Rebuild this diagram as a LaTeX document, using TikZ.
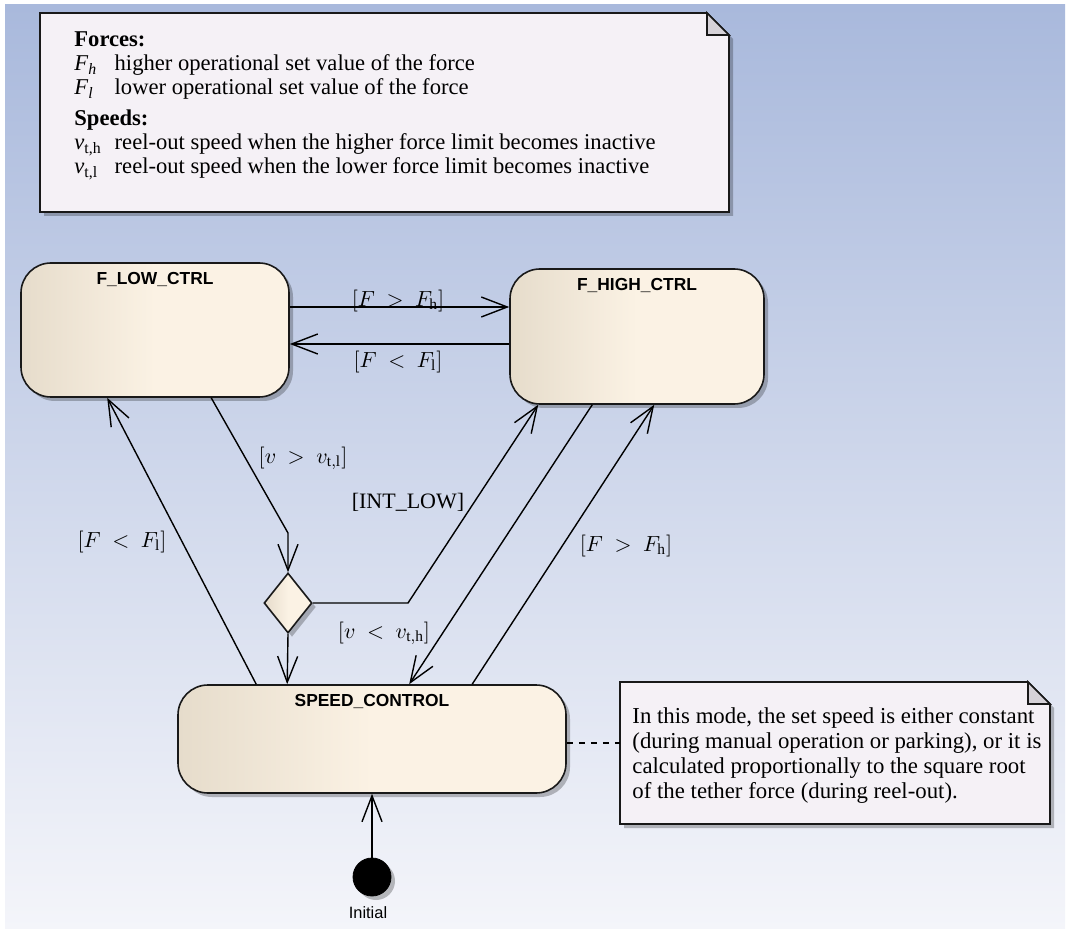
\documentclass[tikz,border=0pt]{standalone}
\usepackage{fontspec}
\setmainfont{Liberation Serif}
\newfontfamily\arialfont{Liberation Sans}
\usetikzlibrary{shapes.geometric,arrows.meta,shadows}

\definecolor{bgtop}{HTML}{A9B9DC}
\definecolor{bgbot}{HTML}{F4F5FA}
\definecolor{stateL}{HTML}{E6DCCB}
\definecolor{stateR}{HTML}{FBF2E4}
\definecolor{notefill}{HTML}{F5F1F6}
\definecolor{foldfill}{HTML}{D6D2D8}

\tikzset{
  softshadow/.style={general shadow={fill=black, opacity=0.25, shadow xshift=2pt, shadow yshift=-2pt}},
  state/.style={rectangle, rounded corners=15pt, draw=black!90, line width=0.8pt,
    left color=stateL, right color=stateR, middle color=stateR, inner sep=0pt, softshadow},
  statename/.style={font=\arialfont\bfseries\fontsize{8.7}{10}\selectfont, inner sep=0pt, anchor=base, yshift=-11pt},
  choice/.style={diamond, draw=black!90, line width=0.8pt, left color=stateL, right color=stateR,
    middle color=stateR, inner sep=0pt, minimum width=24pt, minimum height=30pt, softshadow},
  startdot/.style={circle, fill=black, draw=black, minimum size=19pt, inner sep=0pt, softshadow},
  notebox/.style={fill=notefill, draw=black!90, line width=0.8pt, softshadow},
  fold/.style={fill=foldfill, draw=black!90, line width=0.8pt},
  trans/.style={draw=black, line width=0.7pt, -{Straight Barb[length=13pt,width=10pt]}},
  guard/.style={font=\fontsize{11}{13}\selectfont, inner sep=0pt},
}

\begin{document}
\begin{tikzpicture}[x=0.5pt, y=-0.5pt]

  % background
  \useasboundingbox (0,0) rectangle (1068,929);
  \shade[top color=bgtop, bottom color=bgbot] (5,5) rectangle (1065,929);

  % legend note (top)
  \filldraw[notebox] (40,13) -- (707,13) -- (729,35) -- (729,212) -- (40,212) -- cycle;
  \filldraw[fold] (707,13) -- (707,35) -- (729,35) -- cycle;
  \node[anchor=base west, inner sep=0pt, font=\fontsize{11.3}{12}\selectfont] (legend) at (74,47) {%
    \begin{tabular}[t]{@{}l@{\hspace{6.5pt}}l@{}}
      \multicolumn{2}{@{}l@{}}{\textbf{Forces:}}\\
      \textit{F}\textsubscript{\textit{h}} & higher operational set value of the force\\
      \textit{F}\textsubscript{\textit{l}} & lower operational set value of the force\\[3.5pt]
      \multicolumn{2}{@{}l@{}}{\textbf{Speeds:}}\\
      \textit{v}\textsubscript{t,h} & reel-out speed when the higher force limit becomes inactive\\
      \textit{v}\textsubscript{t,l} & reel-out speed when the lower force limit becomes inactive
    \end{tabular}};

  % comment note (right)
  \filldraw[notebox] (620,682) -- (1028,682) -- (1050,704) -- (1050,824) -- (620,824) -- cycle;
  \filldraw[fold] (1028,682) -- (1028,704) -- (1050,704) -- cycle;
  \coordinate (notein) at (620,743);
  \node[anchor=base west, inner sep=0pt, font=\fontsize{11.4}{12.5}\selectfont] (comment) at (632,723) {%
    \begin{tabular}[t]{@{}l@{}}
      In this mode, the set speed is either constant\\
      (during manual operation or parking), or it is\\
      calculated proportionally to the square root\\
      of the tether force (during reel-out).
    \end{tabular}};

  % states
  \node[state, minimum width=134pt, minimum height=67pt,
        label={[statename]north:F\_LOW\_CTRL}] (lowctrl) at (155,330) {};
  \node[state, minimum width=127pt, minimum height=67.5pt,
        label={[statename]north:F\_HIGH\_CTRL}] (highctrl) at (637,336.5) {};
  \node[state, minimum width=194pt, minimum height=54pt,
        label={[statename]north:SPEED\_CONTROL}] (speedctrl) at (372,739) {};
  \node[choice] (choice) at (288,603) {};
  \node[startdot] (init) at (372,877) {};
  \node[font=\arialfont\fontsize{8.2}{10}\selectfont, inner sep=0pt] (initlbl) at (368,913) {Initial};

  % bends
  \coordinate (bendv) at (288,533);
  \coordinate (bendint) at (408,603);

  % transitions
  \draw[trans] ([yshift=11.5pt]lowctrl.east) -- ([yshift=14.75pt]highctrl.west);
  \draw[trans] ([yshift=-3.75pt]highctrl.west) -- ([yshift=-7pt]lowctrl.east);
  \draw[trans] ([xshift=95.5pt]lowctrl.south west) -- (bendv) -- (choice.north);
  \draw[trans] (choice.east) -- (bendint) -- ([xshift=14.5pt]highctrl.south west);
  \draw[trans] (choice.south) -- ([xshift=55pt]speedctrl.north west);
  \draw[trans] ([xshift=41.5pt]highctrl.south west) -- ([xshift=116pt]speedctrl.north west);
  \draw[trans] ([xshift=147.5pt]speedctrl.north west) -- ([xshift=72.5pt]highctrl.south west);
  \draw[trans] ([xshift=39.5pt]speedctrl.north west) -- ([xshift=43.5pt]lowctrl.south west);
  \draw[trans] (init) -- (speedctrl.south);
  \draw[dashed, line width=0.7pt] ([yshift=-2pt]speedctrl.east) -- (notein);

  % guards
  \node[guard] (gfh1) at (398,301) {$[F\ >\ F_\mathrm{h}]$};
  \node[guard] (gfl1) at (398,362) {$[F\ <\ F_\mathrm{l}]$};
  \node[guard] (gvl) at (303,458) {$[v\ >\ v_\mathrm{t,l}]$};
  \node[guard] (gint) at (408,502) {[INT\_LOW]};
  \node[guard] (gvh) at (384,633) {$[v\ <\ v_\mathrm{t,h}]$};
  \node[guard] (gfh2) at (626,546) {$[F\ >\ F_\mathrm{h}]$};
  \node[guard] (gfl2) at (122,542) {$[F\ <\ F_\mathrm{l}]$};

\end{tikzpicture}
\end{document}
